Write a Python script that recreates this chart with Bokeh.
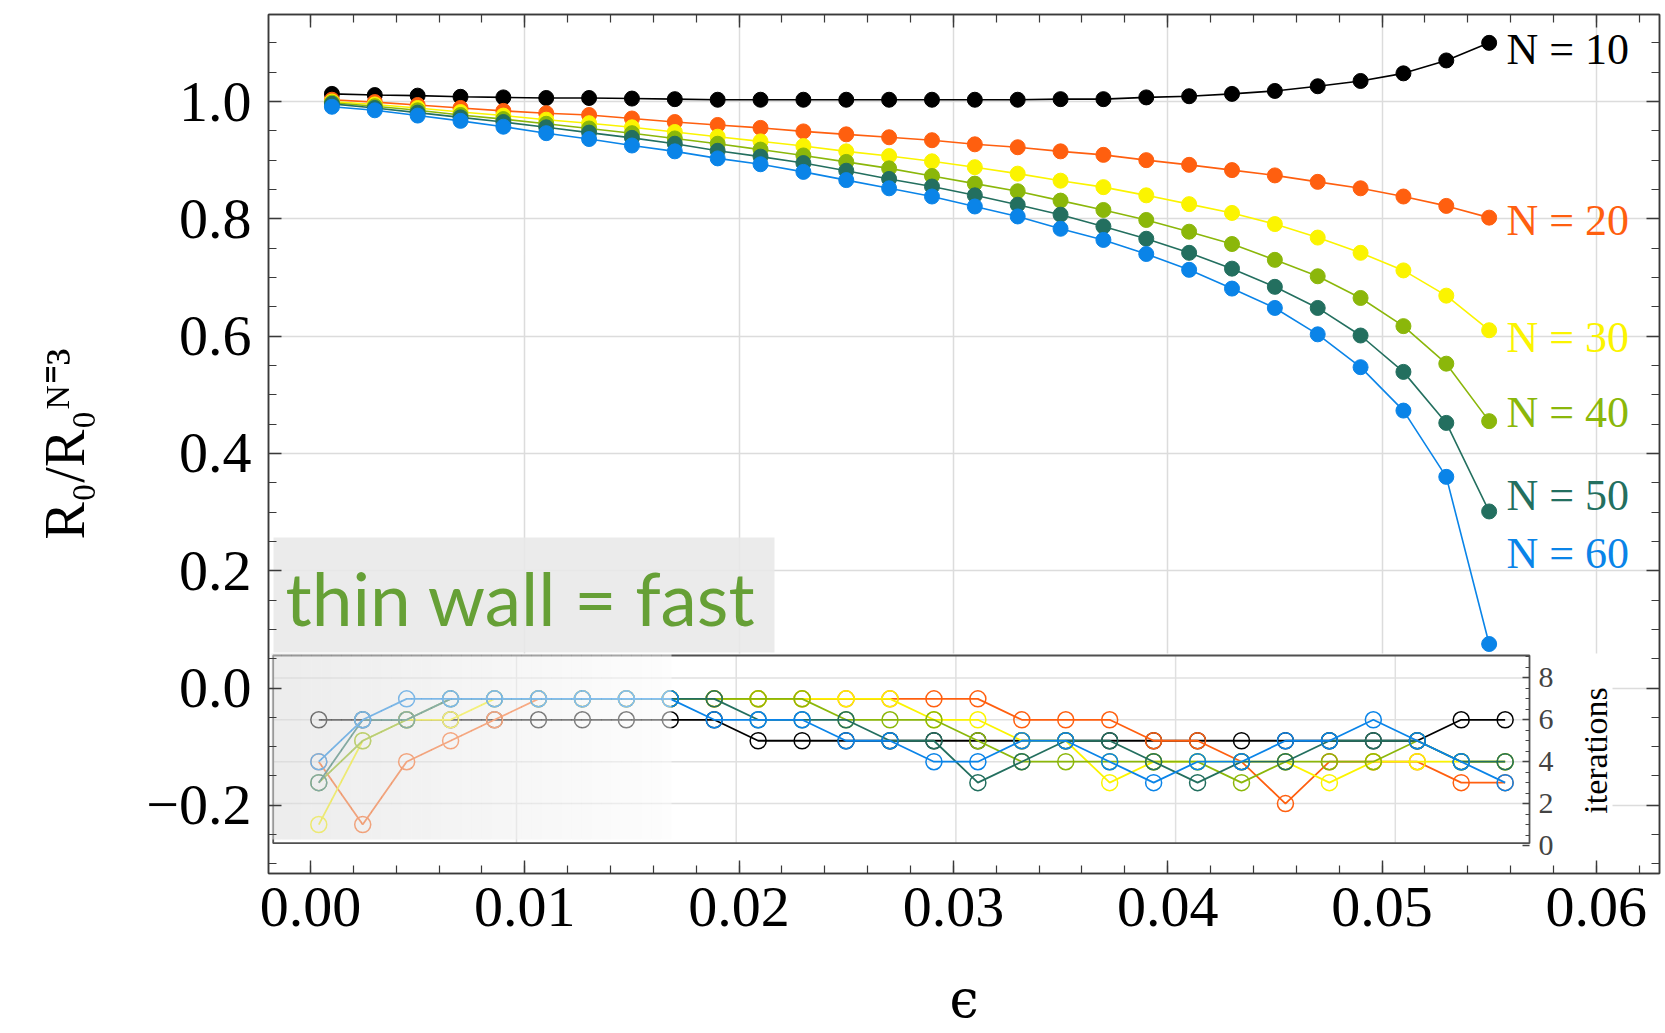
import numpy as np
from bokeh.plotting import figure
from bokeh.models import (Range1d, LinearAxis, SingleIntervalTicker, FixedTicker,
                          CustomJSTickFormatter, Label)
from bokeh.embed import file_html
from bokeh.resources import INLINE

# ---------------- data ----------------
eps = [0.001, 0.003, 0.005, 0.007, 0.009, 0.011, 0.013, 0.015, 0.017, 0.019,
       0.021, 0.023, 0.025, 0.027, 0.029, 0.031, 0.033, 0.035, 0.037, 0.039,
       0.041, 0.043, 0.045, 0.047, 0.049, 0.051, 0.053, 0.055]

series_labels = ["N = 10", "N = 20", "N = 30", "N = 40", "N = 50", "N = 60"]

ratio_N10 = [1.013, 1.011, 1.010, 1.008, 1.007, 1.006, 1.006, 1.005, 1.004, 1.003,
             1.003, 1.003, 1.003, 1.003, 1.003, 1.003, 1.003, 1.004, 1.004, 1.007,
             1.009, 1.013, 1.018, 1.026, 1.035, 1.048, 1.070, 1.100]
ratio_N20 = [1.003, 0.999, 0.994, 0.989, 0.984, 0.980, 0.977, 0.971, 0.965, 0.960,
             0.955, 0.949, 0.944, 0.939, 0.934, 0.927, 0.922, 0.915, 0.909, 0.900,
             0.892, 0.883, 0.874, 0.863, 0.852, 0.838, 0.822, 0.802]
ratio_N30 = [1.000, 0.995, 0.989, 0.982, 0.976, 0.969, 0.963, 0.956, 0.948, 0.940,
             0.932, 0.924, 0.915, 0.907, 0.898, 0.888, 0.877, 0.865, 0.854, 0.840,
             0.825, 0.810, 0.791, 0.768, 0.742, 0.712, 0.669, 0.610]
ratio_N40 = [0.998, 0.992, 0.985, 0.977, 0.970, 0.962, 0.954, 0.946, 0.937, 0.928,
             0.918, 0.908, 0.897, 0.886, 0.873, 0.860, 0.847, 0.831, 0.815, 0.798,
             0.778, 0.757, 0.730, 0.702, 0.665, 0.617, 0.553, 0.455]
ratio_N50 = [0.996, 0.989, 0.981, 0.973, 0.965, 0.956, 0.947, 0.938, 0.928, 0.916,
             0.906, 0.895, 0.882, 0.868, 0.855, 0.840, 0.824, 0.807, 0.787, 0.766,
             0.742, 0.715, 0.684, 0.648, 0.601, 0.539, 0.452, 0.301]
ratio_N60 = [0.991, 0.985, 0.976, 0.967, 0.957, 0.946, 0.936, 0.925, 0.915, 0.903,
             0.893, 0.880, 0.866, 0.852, 0.838, 0.821, 0.804, 0.783, 0.764, 0.740,
             0.713, 0.681, 0.648, 0.603, 0.547, 0.473, 0.360, 0.075]

iter_N10 = [6, 6, 6, 6, 6, 6, 6, 6, 6, 6, 5, 5, 5, 5, 5, 5, 5, 5, 5, 5, 5, 5, 5, 5, 5, 5, 6, 6]
iter_N20 = [4, 1, 4, 5, 6, 7, 7, 7, 7, 7, 7, 7, 7, 7, 7, 7, 6, 6, 6, 5, 5, 4, 2, 4, 4, 4, 3, 3]
iter_N30 = [1, 5, 6, 6, 7, 7, 7, 7, 7, 7, 7, 7, 7, 7, 6, 6, 5, 5, 3, 4, 4, 4, 4, 3, 4, 4, 4, 4]
iter_N40 = [3, 5, 6, 7, 7, 7, 7, 7, 7, 7, 7, 7, 6, 6, 6, 5, 4, 4, 4, 4, 4, 3, 4, 4, 4, 5, 4, 4]
iter_N50 = [3, 6, 6, 7, 7, 7, 7, 7, 7, 7, 6, 6, 6, 5, 5, 3, 4, 5, 5, 4, 3, 4, 4, 5, 5, 5, 4, 4]
iter_N60 = [4, 6, 7, 7, 7, 7, 7, 7, 7, 6, 6, 6, 5, 5, 4, 4, 5, 5, 4, 3, 4, 4, 5, 5, 6, 5, 4, 3]

x_grid_ticks = [0.01, 0.02, 0.03, 0.04, 0.05, 0.06]
inset_major_ticks = [0, 2, 4, 6, 8]
inset_minor_ticks = [0.5, 1, 1.5, 2.5, 3, 3.5, 4.5, 5, 5.5, 6.5, 7, 7.5, 8.5, 9]
inset_grid_x = [0.01, 0.02, 0.03, 0.04, 0.05]
inset_grid_y = [2, 4, 6, 8]

ratios = [ratio_N10, ratio_N20, ratio_N30, ratio_N40, ratio_N50, ratio_N60]
iters = [iter_N10, iter_N20, iter_N30, iter_N40, iter_N50, iter_N60]
colors = ["#000000", "#ff5f0f", "#fbf400", "#8bb70a", "#236f5f", "#0a84e8"]

# ---------------- geometry (page px -> data) ----------------
W, H = 1665, 1033
FL, FR, FT, FB = 268, 1659, 14, 873          # frame edges, page px
def mx(px): return (px - 310.0) / 21430.0
def my(py): return 1.0 - (py - 101.0) / 586.5
def ix(px): return 0.01 + (px - 516.0) / 21970.0
def iy(py): return (845.0 - py) / 20.95

p = figure(width=W, height=H, output_backend="svg", toolbar_location=None,
           x_range=Range1d(mx(FL), mx(FR)), y_range=Range1d(my(FB), my(FT)),
           min_border_left=FL, min_border_right=W - FR, min_border_top=FT,
           min_border_bottom=H - FB)
p.extra_x_ranges = {"ix": Range1d(ix(FL), ix(FR))}
p.extra_y_ranges = {"iy": Range1d(iy(FB), iy(FT))}
p.background_fill_color = "white"
p.border_fill_color = "white"
p.outline_line_color = "#3a3a3a"
p.outline_line_width = 1.5

AX = "#3a3a3a"
xticker = SingleIntervalTicker(interval=0.01, num_minor_ticks=5)
yticker = SingleIntervalTicker(interval=0.2, num_minor_ticks=4)
blank = CustomJSTickFormatter(code="return ''")

def style_axis(ax):
    ax.axis_line_color = AX
    ax.axis_line_width = 1.5
    ax.major_tick_in = 13
    ax.major_tick_out = 0
    ax.minor_tick_in = 8
    ax.minor_tick_out = 0
    ax.major_tick_line_color = AX
    ax.minor_tick_line_color = AX
    ax.major_tick_line_width = 1.4
    ax.minor_tick_line_width = 1.2
    ax.major_label_text_font = "Liberation Serif"
    ax.major_label_text_font_size = "58px"
    ax.major_label_text_color = "black"

xa = p.xaxis[0]
xa.ticker = xticker
xa.formatter = CustomJSTickFormatter(code="return tick.toFixed(2)")
style_axis(xa)
xa.major_label_standoff = 14
xa.axis_label = "\u03f5"
xa.axis_label_text_font = "DejaVu Serif"
xa.axis_label_text_font_size = "52px"
xa.axis_label_text_font_style = "normal"
xa.axis_label_text_color = "black"
xa.axis_label_standoff = 40

ya = p.yaxis[0]
ya.ticker = yticker
ya.formatter = CustomJSTickFormatter(code="return tick.toFixed(1).replace('-', '\\u2212')")
style_axis(ya)
ya.major_label_standoff = 17
ya.axis_label = "R\u2080/R\u2080\u1d3a\u207c\u00b3"
ya.axis_label_text_font = "Liberation Serif"
ya.axis_label_text_font_size = "56px"
ya.axis_label_text_font_style = "normal"
ya.axis_label_text_color = "black"
ya.axis_label_standoff = 47

top = LinearAxis(ticker=xticker, formatter=blank)
style_axis(top)
top.major_label_text_font_size = "1px"
top.major_label_standoff = 0
p.add_layout(top, "above")

right = LinearAxis(ticker=yticker, formatter=blank)
style_axis(right)
right.major_label_text_font_size = "1px"
right.major_label_standoff = 0
p.add_layout(right, "right")

p.xgrid.ticker = FixedTicker(ticks=x_grid_ticks)
p.xgrid.grid_line_color = "#dcdcdc"
p.xgrid.grid_line_width = 1.5
p.ygrid.grid_line_color = "#dcdcdc"
p.ygrid.grid_line_width = 1.5

# ---------------- main series ----------------
for r, c in zip(ratios, colors):
    p.line(eps, r, line_color=c, line_width=1.6)
    p.scatter(eps, r, marker="circle", size=15, fill_color=c, line_color=c)

# series labels (y given as baseline page px, corrected for text box offset)
label_baselines = [64, 235, 352, 427, 510, 568]
for txt, c, by in zip(series_labels, colors, label_baselines):
    p.add_layout(Label(x=mx(1506), y=my(by - 15), text=txt, text_color=c,
                       text_font="Liberation Serif", text_font_size="44px",
                       text_align="left", text_baseline="alphabetic"))

# "thin wall = fast" box
p.quad(left=mx(273), right=mx(774), bottom=my(652), top=my(537),
       fill_color="#e8e8e8", fill_alpha=0.88, line_color=None)
p.add_layout(Label(x=mx(285), y=my(624 - 27), text="thin wall = fast", text_color="#66a036",
                   text_font="Lato", text_font_size="73px",
                   text_align="left", text_baseline="alphabetic"))

# ---------------- inset ----------------
R = dict(x_range_name="ix", y_range_name="iy")
p.quad(left=ix(272), right=ix(1612), bottom=iy(862), top=iy(653),
       fill_color="white", line_color=None, **R)
p.segment(x0=inset_grid_x, x1=inset_grid_x, y0=[iy(843)] * len(inset_grid_x),
          y1=[iy(655)] * len(inset_grid_x), line_color="#e0e0e0", line_width=1.5, **R)
p.segment(x0=[ix(273)] * len(inset_grid_y), x1=[ix(1529)] * len(inset_grid_y),
          y0=inset_grid_y, y1=inset_grid_y, line_color="#e0e0e0", line_width=1.5, **R)
for it, c in zip(iters, colors):
    p.line(eps, it, line_color=c, line_width=1.8, **R)
    p.scatter(eps, it, marker="circle", size=16, fill_color=None, line_color=c,
              line_width=1.5, **R)
p.quad(left=ix(272.7), right=ix(1529), bottom=iy(842.7), top=iy(655),
       fill_color=None, line_color="#505050", line_width=1.8, **R)
# gradient veil over the thin-wall region
n = 40
edges = np.linspace(ix(271), ix(671), n + 1)
shade = np.linspace(220, 251, n).astype(int)
veil_cols = ["#%02x%02x%02x" % (s, s, s) for s in shade]
p.quad(left=edges[:-1], right=edges[1:], bottom=iy(839), top=iy(653),
       fill_color=veil_cols, fill_alpha=0.52, line_color=None, **R)

iax = LinearAxis(x_range_name="ix", y_range_name="iy", fixed_location=ix(1529),
                 ticker=FixedTicker(ticks=inset_major_ticks, minor_ticks=inset_minor_ticks))
iax.axis_line_color = None
iax.major_tick_in = 7
iax.major_tick_out = 0
iax.minor_tick_in = 4
iax.minor_tick_out = 0
iax.major_tick_line_color = "#444444"
iax.minor_tick_line_color = "#444444"
iax.major_tick_line_width = 1.3
iax.minor_tick_line_width = 1.1
iax.major_label_text_font = "Liberation Serif"
iax.major_label_text_font_size = "30px"
iax.major_label_standoff = 9
p.add_layout(iax, "right")

p.add_layout(Label(x=mx(1595), y=my(750), text="iterations", angle=np.pi / 2,
                   text_font="Liberation Serif", text_font_size="34px",
                   text_align="center", text_baseline="middle", text_color="black"))

open("out.html", "w").write(file_html(p, INLINE))
